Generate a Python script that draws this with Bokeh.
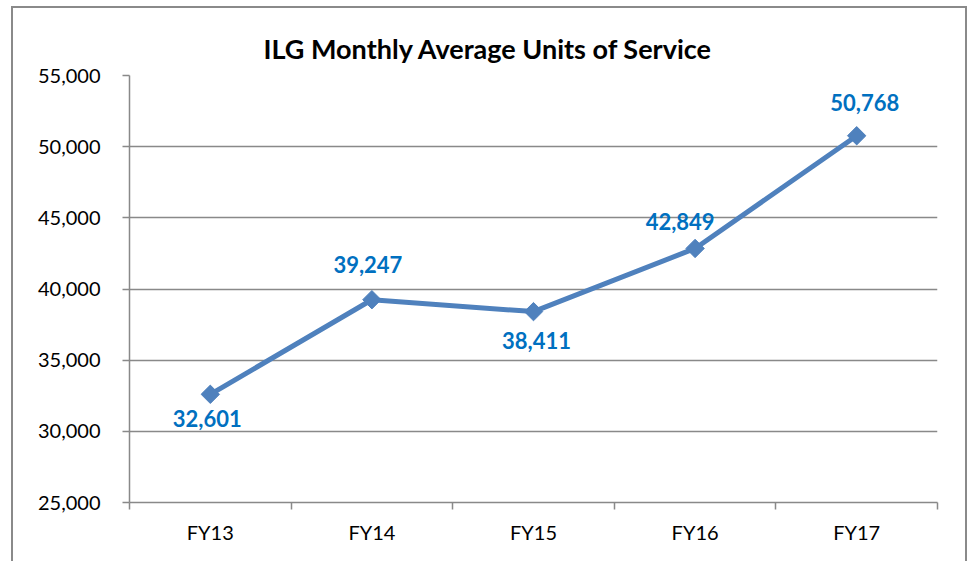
from bokeh.plotting import figure
from bokeh.models import (ColumnDataSource, Range1d, FixedTicker, NumeralTickFormatter,
                          LabelSet, InlineStyleSheet)
from bokeh.core.properties import value
from bokeh.embed import file_html
from bokeh.resources import INLINE
import math

categories = ["FY13", "FY14", "FY15", "FY16", "FY17"]
values = [32601, 39247, 38411, 42849, 50768]
label_texts = ["32,601", "39,247", "38,411", "42,849", "50,768"]
y_ticks = [25000, 30000, 35000, 40000, 45000, 50000, 55000]

# label placement (screen px)
label_dx = [-3, -4, 3, -15, 8]
label_dy = [-24, 35, -29, 27, 33]

xs = [i + 0.5 for i in range(len(categories))]
src = ColumnDataSource(dict(x=xs, y=values, txt=label_texts, dx=label_dx, dy=label_dy))

p = figure(width=956, height=555, output_backend="svg", toolbar_location=None,
           x_range=Range1d(0, len(categories)), y_range=Range1d(y_ticks[0], y_ticks[-1]),
           min_border_left=116, min_border_right=32, min_border_top=67, min_border_bottom=61,
           title="ILG Monthly Average Units of Service")

p.stylesheets = [InlineStyleSheet(css=":host { box-sizing: border-box; margin: 6px 0 0 11px; border: 2px solid #8a8a8a; border-bottom: none; }")]

p.title.text_font = "Lato"
p.title.text_font_size = "27px"
p.title.text_font_style = "bold"
p.title.text_color = "#000000"
p.title.align = "left"
p.title.offset = 134
p.title.standoff = 21

p.outline_line_color = None
p.background_fill_color = "white"
p.border_fill_color = "white"

# grid
p.xgrid.grid_line_color = None
p.ygrid.ticker = FixedTicker(ticks=y_ticks)
p.ygrid.grid_line_color = "#898989"
p.ygrid.grid_line_width = 1.5

# y axis
p.yaxis.ticker = FixedTicker(ticks=y_ticks)
p.yaxis.formatter = NumeralTickFormatter(format="0,0")
p.yaxis.axis_line_color = "#898989"
p.yaxis.axis_line_width = 1.5
p.yaxis.major_tick_line_color = "#898989"
p.yaxis.major_tick_line_width = 1.5
p.yaxis.major_tick_out = 7
p.yaxis.major_tick_in = 0
p.yaxis.minor_tick_line_color = None
p.yaxis.major_label_text_font = "Lato"
p.yaxis.major_label_text_font_size = "20px"
p.yaxis.major_label_text_color = "#000000"
p.yaxis.major_label_standoff = 22

# x axis: labels at category centres, tick marks at boundaries
p.xaxis.ticker = FixedTicker(ticks=xs, minor_ticks=list(range(len(categories) + 1)))
p.xaxis.major_label_overrides = {x: c for x, c in zip(xs, categories)}
p.xaxis.axis_line_color = "#898989"
p.xaxis.axis_line_width = 1.5
p.xaxis.major_tick_line_color = None
p.xaxis.minor_tick_line_color = "#898989"
p.xaxis.minor_tick_line_width = 1.5
p.xaxis.minor_tick_out = 7
p.xaxis.minor_tick_in = 0
p.xaxis.major_label_text_font = "Lato"
p.xaxis.major_label_text_font_size = "20px"
p.xaxis.major_label_text_color = "#000000"
p.xaxis.major_label_standoff = 10

p.line("x", "y", source=src, line_color="#4F81BD", line_width=5)
p.scatter("x", "y", source=src, marker="square", size=13, angle=math.pi / 4,
          fill_color="#4F81BD", line_color="#4F81BD")

labels = LabelSet(x="x", y="y", text="txt", source=src, x_offset="dx", y_offset="dy",
                  text_align="center", text_baseline="middle",
                  text_font=value("Lato"), text_font_size="22px", text_font_style="bold",
                  text_color="#0070C0")
p.add_layout(labels)

open("out.html", "w").write(file_html(p, INLINE))
